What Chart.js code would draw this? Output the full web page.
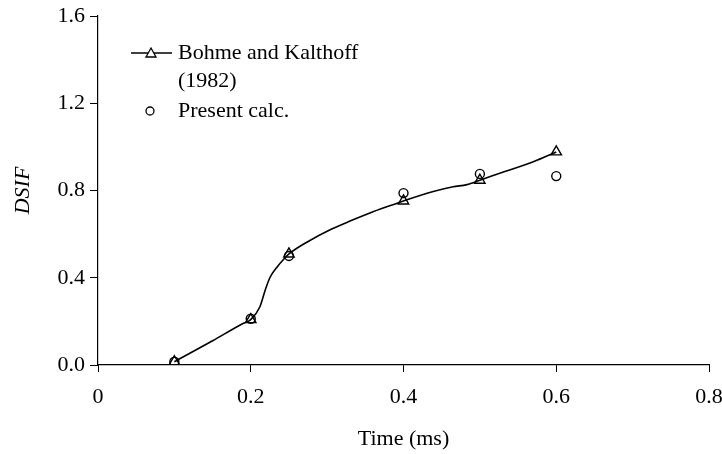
<!DOCTYPE html>
<html>
<head>
<meta charset="utf-8">
<script src="https://cdn.jsdelivr.net/npm/chart.js@4/dist/chart.umd.min.js"></script>
<style>
html,body{margin:0;padding:0;background:#fff;}
#wrap{width:722px;height:454px;position:relative;}
</style>
</head>
<body>
<div id="wrap"><canvas id="c" width="722" height="454"></canvas></div>
<script>
// Bohme and Kalthoff (1982) markers
const bohmeTime = [0.1, 0.2, 0.25, 0.4, 0.5, 0.6];
const bohmeDSIF = [0.015, 0.208, 0.509, 0.752, 0.847, 0.977];
// Bohme and Kalthoff curve
const curveTime = [0.1, 0.15, 0.188, 0.2, 0.212, 0.219, 0.225, 0.234, 0.243, 0.25, 0.278, 0.304, 0.33, 0.356, 0.382, 0.4, 0.439, 0.465, 0.483, 0.5, 0.526, 0.57, 0.6];
const curveDSIF = [0.015, 0.111, 0.187, 0.208, 0.267, 0.344, 0.400, 0.447, 0.484, 0.509, 0.572, 0.620, 0.660, 0.697, 0.730, 0.752, 0.795, 0.817, 0.827, 0.847, 0.879, 0.932, 0.977];
// Present calculation
const presentTime = [0.1, 0.2, 0.25, 0.4, 0.5, 0.6];
const presentDSIF = [0.015, 0.212, 0.500, 0.788, 0.876, 0.866];
// Axis ticks
const xTicks = [0, 0.2, 0.4, 0.6, 0.8];
const yTicks = [0.0, 0.4, 0.8, 1.2, 1.6];

const FONT = "'Liberation Serif', 'Times New Roman', serif";
const FS = 22;
const toXY = (xs, ys) => xs.map((x, i) => ({x: x, y: ys[i]}));

const legendPlugin = {
  id: 'customLegend',
  afterDraw(chart) {
    const ctx = chart.ctx;
    ctx.save();
    ctx.strokeStyle = '#000';
    ctx.lineWidth = 1.3;
    ctx.beginPath();
    ctx.moveTo(131, 53); ctx.lineTo(172, 53); ctx.stroke();
    const tx = 151, ty = 53, r = 5;
    ctx.fillStyle = '#fff';
    ctx.beginPath();
    ctx.moveTo(tx, ty - r); ctx.lineTo(tx + r, ty + r * 0.8); ctx.lineTo(tx - r, ty + r * 0.8); ctx.closePath();
    ctx.fill(); ctx.stroke();
    ctx.beginPath();
    ctx.arc(150, 111, 4, 0, Math.PI * 2);
    ctx.stroke();
    ctx.fillStyle = '#000';
    ctx.font = FS + 'px ' + FONT;
    ctx.textBaseline = 'middle';
    ctx.textAlign = 'left';
    ctx.fillText('Bohme and Kalthoff', 178, 53);
    ctx.fillText('(1982)', 178, 81);
    ctx.fillText('Present calc.', 178, 111);
    ctx.restore();
  }
};

new Chart(document.getElementById('c'), {
  type: 'scatter',
  data: {
    datasets: [
      {
        label: 'curve',
        data: toXY(curveTime, curveDSIF),
        showLine: true,
        borderColor: '#000',
        borderWidth: 1.6,
        pointRadius: 0,
        cubicInterpolationMode: 'monotone',
        fill: false
      },
      {
        label: 'Bohme and Kalthoff (1982)',
        data: toXY(bohmeTime, bohmeDSIF),
        showLine: false,
        pointStyle: 'triangle',
        pointRadius: 6,
        borderColor: '#000',
        borderWidth: 1.4,
        backgroundColor: 'rgba(255,255,255,0)'
      },
      {
        label: 'Present calc.',
        data: toXY(presentTime, presentDSIF),
        showLine: false,
        pointStyle: 'circle',
        pointRadius: 4.5,
        borderColor: '#000',
        borderWidth: 1.4,
        backgroundColor: 'rgba(255,255,255,0)'
      }
    ]
  },
  options: {
    responsive: false,
    animation: false,
    layout: {padding: {left: 0, right: 13, top: 16, bottom: 0}},
    plugins: {legend: {display: false}, tooltip: {enabled: false}},
    scales: {
      x: {
        type: 'linear',
        min: 0, max: 0.8,
        afterBuildTicks: (s) => { s.ticks = xTicks.map(v => ({value: v})); },
        afterFit: (s) => { s.height = 89; s.paddingLeft = 0; s.paddingRight = 0; },
        grid: {drawOnChartArea: false, drawTicks: true, tickLength: 7, color: '#000', lineWidth: 1},
        border: {display: true, color: '#000', width: 1.2},
        ticks: {
          color: '#000', padding: 12,
          font: {family: FONT, size: FS},
          callback: (v) => String(v)
        },
        title: {display: true, text: 'Time (ms)', color: '#000', font: {family: FONT, size: FS}, padding: {top: 10, bottom: 2}}
      },
      y: {
        type: 'linear',
        min: 0, max: 1.6,
        afterBuildTicks: (s) => { s.ticks = yTicks.map(v => ({value: v})); },
        afterFit: (s) => { s.width = 98; s.paddingTop = 0; s.paddingBottom = 0; },
        grid: {drawOnChartArea: false, drawTicks: true, tickLength: 8, color: '#000', lineWidth: 1},
        border: {display: true, color: '#000', width: 1.2},
        ticks: {
          color: '#000', padding: 5,
          font: {family: FONT, size: FS},
          callback: (v) => Number(v).toFixed(1)
        },
        title: {display: true, text: 'DSIF', color: '#000', font: {family: FONT, size: FS, style: 'italic'}, padding: {bottom: 0, top: 10}}
      }
    }
  },
  plugins: [legendPlugin]
});
</script>
</body>
</html>
